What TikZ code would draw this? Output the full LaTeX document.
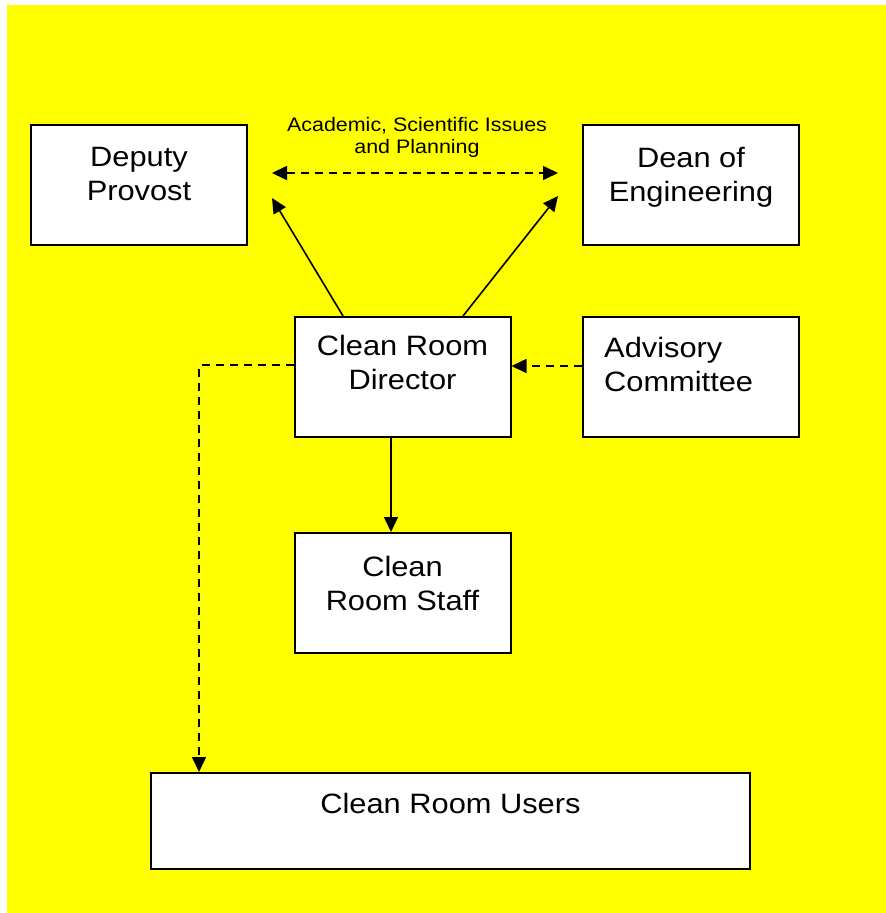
\documentclass[tikz,border=0pt]{standalone}
\usepackage{fontspec}
\setmainfont{Liberation Sans}[FakeStretch=1.1]
\usetikzlibrary{arrows.meta}
\definecolor{chartyellow}{RGB}{255,255,0}

\begin{document}
\begin{tikzpicture}[x=1pt,y=-1pt]
		\tikzstyle{every node}+=[inner sep=0pt]
		\tikzstyle{orgbox}=[draw=black, line width=2pt, fill=white, minimum height=120pt, minimum width=216pt]
		\tikzstyle{orgtext}=[font=\fontsize{28}{34}\selectfont, align=center]
		\tikzstyle{link}=[line width=1.6pt, -{Triangle[length=15pt,width=14pt]}]
		\tikzstyle{dashlink}=[link, dash pattern=on 8pt off 6pt]
		% background
		\fill [white] (0,0) rectangle (886,913);
		\fill [chartyellow] (7,5) rectangle (886,913);
		% boxes
		\node [orgbox] (dp) at (139,185) {};
		\node [orgtext] (dptext) at ([yshift=11pt]dp.center) {Deputy\\Provost};
		\node [orgbox] (de) at (691,185) {};
		\node [orgtext] (detext) at ([yshift=8pt]de.center) {Dean of\\Engineering};
		\node [orgbox] (dr) at (402.5,377) {};
		\node [orgtext] (drtext) at ([yshift=15pt]dr.center) {Clean Room\\Director};
		\node [orgbox] (ac) at (691,377) {};
		\node [orgtext, align=left, anchor=west] (actext) at ([xshift=22pt,yshift=13pt]ac.west) {Advisory\\Committee};
		\node [orgbox] (st) at (402.5,593) {};
		\node [orgtext] (sttext) at ([yshift=10pt]st.center) {Clean\\Room Staff};
		\node [orgbox, minimum width=599pt, minimum height=96pt] (us) at (450.5,821) {};
		\node [orgtext] (ustext) at ([yshift=18pt]us.center) {Clean Room Users};
		% academic link
		\coordinate (acadL) at (272,173);
		\coordinate (acadR) at (558,173);
		\draw [dashlink, {Triangle[length=15pt,width=14pt]}-{Triangle[length=15pt,width=14pt]}] (acadL) -- (acadR);
		\node [font=\fontsize{19.5}{22}\selectfont, align=center] (acadtext) at (417,137.5) {Academic, Scientific Issues\\and Planning};
		% reporting lines
		\coordinate (dptip) at (272,198);
		\coordinate (detip) at (558,196);
		\draw [link] ([xshift=-59.5pt]dr.north) -- (dptip);
		\draw [link] ([xshift=60.5pt]dr.north) -- (detip);
		\draw [link] ([xshift=-11.5pt]dr.south) -- ([xshift=-11.5pt]st.north);
		\draw [dashlink] ([yshift=11pt]ac.west) -- ([yshift=11pt]dr.east);
		\draw [dashlink] ([yshift=12pt]dr.west) -| ([xshift=-251.5pt]us.north);
	\end{tikzpicture}
\end{document}
